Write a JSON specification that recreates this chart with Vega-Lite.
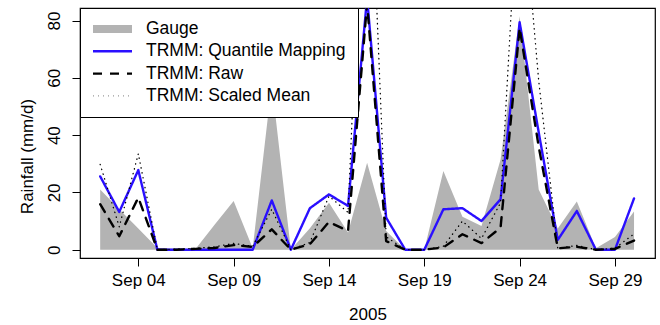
{
  "$schema": "https://vega.github.io/schema/vega-lite/v6.json",
  "width": 575,
  "height": 250,
  "autosize": "none",
  "padding": {"left": 80, "top": 8, "right": 5, "bottom": 67},
  "background": "white",
  "config": {
    "font": "Liberation Sans",
    "view": {"stroke": "black", "strokeWidth": 1.2},
    "axis": {"domain": false, "grid": false, "tickColor": "black", "tickSize": 8, "tickWidth": 1, "labelColor": "black", "labelFontSize": 17, "titleFontSize": 17, "titleFontWeight": "normal", "titleColor": "black", "labelFont": "Liberation Sans", "titleFont": "Liberation Sans"},
    "legend": {"orient": "top-left", "offset": 0, "padding": 12, "fillColor": "white", "strokeColor": "black", "labelFontSize": 17.5, "labelLimit": 400, "labelColor": "black", "labelFont": "Liberation Sans", "symbolSize": 100, "symbolType": "M-1.6,0H6.2", "labelOffset": 36, "rowPadding": 4.3, "clipHeight": 18, "cornerRadius": 0, "titlePadding": 0}
  },
  "data": {"values": [
    {"date": "2005-09-02T00:00", "Gauge": 21, "TRMM: Quantile Mapping": 25.6, "TRMM: Raw": 15.9, "TRMM: Scaled Mean": 29.8},
    {"date": "2005-09-03T00:00", "Gauge": 14.1, "TRMM: Quantile Mapping": 13.2, "TRMM: Raw": 4.7, "TRMM: Scaled Mean": 8},
    {"date": "2005-09-04T00:00", "Gauge": 7.4, "TRMM: Quantile Mapping": 27.8, "TRMM: Raw": 18.2, "TRMM: Scaled Mean": 33.5},
    {"date": "2005-09-05T00:00", "Gauge": 0.6, "TRMM: Quantile Mapping": 0, "TRMM: Raw": 0, "TRMM: Scaled Mean": 0},
    {"date": "2005-09-06T00:00", "Gauge": 0.3, "TRMM: Quantile Mapping": 0, "TRMM: Raw": 0, "TRMM: Scaled Mean": 0.2},
    {"date": "2005-09-07T00:00", "Gauge": 0.2, "TRMM: Quantile Mapping": 0, "TRMM: Raw": 0.3, "TRMM: Scaled Mean": 0.5},
    {"date": "2005-09-08T00:00", "Gauge": 8.7, "TRMM: Quantile Mapping": 0, "TRMM: Raw": 0.6, "TRMM: Scaled Mean": 1.0},
    {"date": "2005-09-09T00:00", "Gauge": 17, "TRMM: Quantile Mapping": 0, "TRMM: Raw": 1.6, "TRMM: Scaled Mean": 2.2},
    {"date": "2005-09-10T00:00", "Gauge": 0.5, "TRMM: Quantile Mapping": 0, "TRMM: Raw": 1.0, "TRMM: Scaled Mean": 1.2},
    {"date": "2005-09-11T00:00", "Gauge": 58, "TRMM: Quantile Mapping": 17.2, "TRMM: Raw": 7.1, "TRMM: Scaled Mean": 14.1},
    {"date": "2005-09-12T00:00", "Gauge": 0, "TRMM: Quantile Mapping": 0, "TRMM: Raw": 0, "TRMM: Scaled Mean": 0},
    {"date": "2005-09-13T00:00", "Gauge": 7.5, "TRMM: Quantile Mapping": 14.5, "TRMM: Raw": 1.9, "TRMM: Scaled Mean": 2.5},
    {"date": "2005-09-14T00:00", "Gauge": 16.4, "TRMM: Quantile Mapping": 19.3, "TRMM: Raw": 9.7, "TRMM: Scaled Mean": 18.7},
    {"date": "2005-09-15T00:00", "Gauge": 6, "TRMM: Quantile Mapping": 15.3, "TRMM: Raw": 6.5, "TRMM: Scaled Mean": 13},
    {"date": "2005-09-16T00:00", "Gauge": 30.4, "TRMM: Quantile Mapping": 88, "TRMM: Raw": 86, "TRMM: Scaled Mean": 167},
    {"date": "2005-09-17T00:00", "Gauge": 6.5, "TRMM: Quantile Mapping": 11.2, "TRMM: Raw": 3, "TRMM: Scaled Mean": 4.5},
    {"date": "2005-09-18T00:00", "Gauge": 0, "TRMM: Quantile Mapping": 0, "TRMM: Raw": 0, "TRMM: Scaled Mean": 0},
    {"date": "2005-09-19T00:00", "Gauge": 0, "TRMM: Quantile Mapping": 0, "TRMM: Raw": 0, "TRMM: Scaled Mean": 0},
    {"date": "2005-09-20T00:00", "Gauge": 27.5, "TRMM: Quantile Mapping": 14.1, "TRMM: Raw": 0.8, "TRMM: Scaled Mean": 1.2},
    {"date": "2005-09-21T00:00", "Gauge": 11.5, "TRMM: Quantile Mapping": 14.5, "TRMM: Raw": 5.4, "TRMM: Scaled Mean": 10},
    {"date": "2005-09-22T00:00", "Gauge": 8.3, "TRMM: Quantile Mapping": 10, "TRMM: Raw": 2.3, "TRMM: Scaled Mean": 3.9},
    {"date": "2005-09-23T00:00", "Gauge": 31.5, "TRMM: Quantile Mapping": 17.6, "TRMM: Raw": 7.7, "TRMM: Scaled Mean": 16.4},
    {"date": "2005-09-24T00:00", "Gauge": 81.5, "TRMM: Quantile Mapping": 79.4, "TRMM: Raw": 77.4, "TRMM: Scaled Mean": 136},
    {"date": "2005-09-25T00:00", "Gauge": 21, "TRMM: Quantile Mapping": 41, "TRMM: Raw": 36, "TRMM: Scaled Mean": 59},
    {"date": "2005-09-26T00:00", "Gauge": 7.4, "TRMM: Quantile Mapping": 3.4, "TRMM: Raw": 0.5, "TRMM: Scaled Mean": 0.5},
    {"date": "2005-09-27T00:00", "Gauge": 16.8, "TRMM: Quantile Mapping": 13.5, "TRMM: Raw": 1, "TRMM: Scaled Mean": 1.5},
    {"date": "2005-09-28T00:00", "Gauge": 0.5, "TRMM: Quantile Mapping": 0, "TRMM: Raw": 0, "TRMM: Scaled Mean": 0},
    {"date": "2005-09-29T00:00", "Gauge": 4.4, "TRMM: Quantile Mapping": 0, "TRMM: Raw": 0.3, "TRMM: Scaled Mean": 0.5},
    {"date": "2005-09-30T00:00", "Gauge": 13.3, "TRMM: Quantile Mapping": 17.9, "TRMM: Raw": 3.2, "TRMM: Scaled Mean": 5.5}
  ]},
  "layer": [
    {
      "mark": {"type": "area", "color": "#b3b3b3", "clip": true},
      "encoding": {
        "x": {"field": "date", "type": "temporal",
          "scale": {"domain": [{"year": 2005, "month": 8, "date": 31, "hours": 22, "minutes": 36}, {"year": 2005, "month": 10, "date": 1, "hours": 2, "minutes": 24}]},
          "axis": {"values": [{"year": 2005, "month": 9, "date": 4}, {"year": 2005, "month": 9, "date": 9}, {"year": 2005, "month": 9, "date": 14}, {"year": 2005, "month": 9, "date": 19}, {"year": 2005, "month": 9, "date": 24}, {"year": 2005, "month": 9, "date": 29}],
            "format": "%b %d", "labelPadding": 6, "labelBaseline": "top", "labelFlush": false, "labelOverlap": false, "title": "2005", "titleY": 56, "titleBaseline": "middle"}},
        "y": {"field": "Gauge", "type": "quantitative",
          "scale": {"domain": [-2.9, 84.4], "nice": false, "zero": false},
          "axis": {"values": [0, 20, 40, 60, 80], "labelAngle": 270, "labelAlign": "center", "labelBaseline": "bottom", "labelPadding": 9, "labelFlush": false, "labelOverlap": false, "title": "Rainfall (mm/d)", "titleX": -53, "titleY": 148, "titleAngle": 270, "titleAlign": "center", "titleBaseline": "middle"}}
      }
    },
    {
      "transform": [{"fold": ["TRMM: Quantile Mapping", "TRMM: Raw", "TRMM: Scaled Mean"], "as": ["series", "value"]}],
      "mark": {"type": "line", "clip": true, "strokeCap": "round", "strokeJoin": "round"},
      "encoding": {
        "x": {"field": "date", "type": "temporal"},
        "y": {"field": "value", "type": "quantitative"},
        "color": {"field": "series", "type": "nominal", "title": null,
          "scale": {"domain": ["Gauge", "TRMM: Quantile Mapping", "TRMM: Raw", "TRMM: Scaled Mean"], "range": ["#b3b3b3", "#2a0fff", "#000000", "#000000"]}},
        "strokeDash": {"field": "series", "type": "nominal", "title": null,
          "scale": {"domain": ["Gauge", "TRMM: Quantile Mapping", "TRMM: Raw", "TRMM: Scaled Mean"], "range": [[1, 0], [1, 0], [9, 8], [0.4, 4.6]]}},
        "strokeWidth": {"field": "series", "type": "nominal", "title": null,
          "scale": {"type": "ordinal", "domain": ["Gauge", "TRMM: Quantile Mapping", "TRMM: Raw", "TRMM: Scaled Mean"], "range": [8, 2.4, 2.4, 1.3]}}
      }
    }
  ]
}
